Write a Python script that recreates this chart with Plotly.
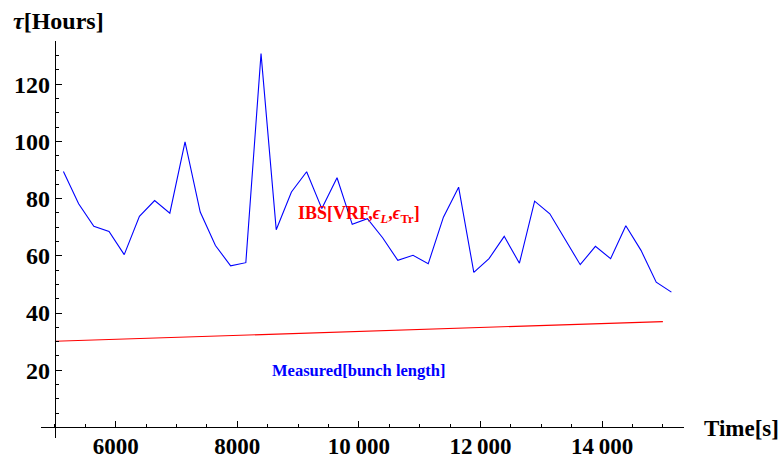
import plotly.graph_objects as go

# ---- data ----
times = [5140, 5390, 5640, 5890, 6140, 6390, 6640, 6890, 7140, 7390,
         7640, 7890, 8140, 8390, 8640, 8890, 9140, 9390, 9640, 9890,
         10140, 10390, 10640, 10890, 11140, 11390, 11640, 11890, 12140, 12390,
         12640, 12890, 13140, 13390, 13640, 13890, 14140, 14390, 14640, 14890,
         15140]
measured = [89.5, 78.2, 70.3, 68.5, 60.4, 73.8, 79.3, 74.9, 99.8, 75.3,
            63.6, 56.5, 57.6, 130.7, 69.1, 82.3, 89.4, 76.5, 87.3, 71.0,
            73.0, 66.3, 58.4, 60.2, 57.2, 73.5, 84.0, 54.2, 59.0, 66.8,
            57.4, 79.1, 74.7, 65.6, 56.9, 63.3, 59.0, 70.5, 61.9, 50.8,
            47.3]
ibs_t = [5000, 7500, 10000, 12500, 15000]
ibs_tau = [30.1, 31.8, 33.5, 35.2, 37.0]

x_tickvals = [6000, 8000, 10000, 12000, 14000]
x_ticktext = ["6000", "8000", "10\u2009000", "12\u2009000", "14\u2009000"]
y_tickvals = [20, 40, 60, 80, 100, 120]
y_ticktext = ["20", "40", "60", "80", "100", "120"]

# ---- layout geometry ----
W, H = 781, 460
ML, MT = 41, 41
MR = W - 684
MB = H - 438
XR = [4771, 15347]
YR = [-3.7, 135.1]
FONT = "Liberation Serif"

def paper_x(sx):
    return (sx - ML) / (W - ML - MR)

def paper_y(sy):
    return (H - MB - sy) / (H - MT - MB)

fig = go.Figure()
fig.add_trace(go.Scatter(x=times, y=measured, mode="lines",
                         line=dict(color="#0000ff", width=1.1), showlegend=False))
fig.add_trace(go.Scatter(x=ibs_t, y=ibs_tau, mode="lines",
                         line=dict(color="#ff0000", width=1.1), showlegend=False))

axis_common = dict(showgrid=False, zeroline=False, showline=True, linecolor="black",
                   linewidth=1, ticks="inside", ticklen=6.5, tickwidth=1, tickcolor="black",
                   automargin=False)

fig.update_xaxes(range=XR, anchor="free", position=(0 - YR[0]) / (YR[1] - YR[0]),
                 tickmode="array", tickvals=x_tickvals, ticktext=x_ticktext,
                 tickfont=dict(family=FONT, size=23, color="black", weight="bold"),
                 ticklabelstandoff=-2,
                 minor=dict(dtick=500, tick0=0, ticks="inside", ticklen=3.5, tickcolor="black",
                            tickwidth=1, showgrid=False),
                 **axis_common)
fig.update_yaxes(range=YR, anchor="free", position=(5000 - XR[0]) / (XR[1] - XR[0]),
                 tickmode="array", tickvals=y_tickvals, ticktext=y_ticktext,
                 tickfont=dict(family=FONT, size=24, color="black", weight="bold"),
                 minor=dict(dtick=5, tick0=0, ticks="inside", ticklen=3.5, tickcolor="black",
                            tickwidth=1, showgrid=False),
                 **axis_common)

fig.add_annotation(x=10000, y=74.5, xref="x", yref="y", showarrow=False,
                   text="IBS[VRF,<i>ϵ</i><sub><i>L</i></sub>,<i>ϵ</i><sub>Tr</sub>]",
                   font=dict(family=FONT, size=18, color="#ff0000", weight="bold"))
fig.add_annotation(x=10000, y=20, xref="x", yref="y", showarrow=False,
                   text="Measured[bunch length]",
                   font=dict(family=FONT, size=16.5, color="#0000ff", weight="bold"))
fig.add_annotation(x=paper_x(702), y=paper_y(428), xref="paper", yref="paper",
                   xanchor="left", yanchor="middle", showarrow=False, text="Time[s]",
                   font=dict(family=FONT, size=23, color="black", weight="bold"))
fig.add_annotation(x=paper_x(11), y=paper_y(21), xref="paper", yref="paper",
                   xanchor="left", yanchor="middle", showarrow=False, text="<i>τ</i>[Hours]",
                   font=dict(family=FONT, size=24, color="black", weight="bold"))

fig.update_layout(width=W, height=H, margin=dict(l=ML, r=MR, t=MT, b=MB, autoexpand=False),
                  plot_bgcolor="white", paper_bgcolor="white")

fig.write_html("out.html", config={"displayModeBar": False})

# remove the browser's default body margin so the figure fills the window exactly
with open("out.html", "r", encoding="utf-8") as f:
    html = f.read()
html = html.replace("<head>", '<head><style>body{margin:0;overflow:hidden}</style>', 1)
with open("out.html", "w", encoding="utf-8") as f:
    f.write(html)
